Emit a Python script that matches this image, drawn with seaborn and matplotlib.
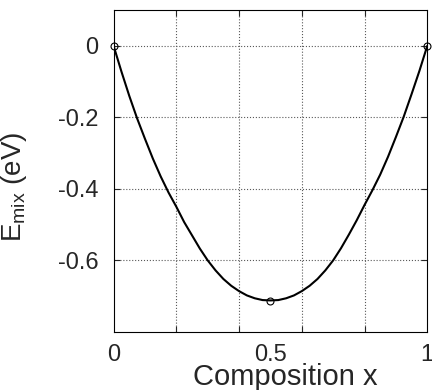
import numpy as np
import pandas as pd
import matplotlib
matplotlib.use('Agg')
from matplotlib import pyplot as plt
import seaborn as sns

# mixing energy curve
comp = [0.0, 0.025, 0.05, 0.075, 0.1, 0.125, 0.15, 0.175, 0.2, 0.225, 0.25,
        0.275, 0.3, 0.325, 0.35, 0.375, 0.4, 0.425, 0.45, 0.475, 0.5,
        0.525, 0.55, 0.575, 0.6, 0.625, 0.65, 0.675, 0.7, 0.725, 0.75,
        0.775, 0.8, 0.825, 0.85, 0.875, 0.9, 0.925, 0.95, 0.975, 1.0]
emix = [0.0, -0.072, -0.14, -0.203, -0.26, -0.315, -0.365, -0.41, -0.45, -0.493, -0.53,
        -0.567, -0.60, -0.628, -0.652, -0.671, -0.686, -0.698, -0.706, -0.711, -0.712,
        -0.711, -0.706, -0.698, -0.686, -0.671, -0.652, -0.628, -0.60, -0.566, -0.528,
        -0.488, -0.445, -0.404, -0.36, -0.31, -0.255, -0.198, -0.135, -0.07, 0.0]
# computed points (circles)
pts_x = [0.0, 0.5, 1.0]
pts_y = [0.0, -0.714, 0.0]

xtick_pos = [0, 0.5, 1]
xtick_lab = ['0', '0.5', '1']
xgrid_pos = [0.2, 0.4, 0.6, 0.8]
ytick_pos = [0, -0.2, -0.4, -0.6]
ytick_lab = ['0', '-0.2', '-0.4', '-0.6']

sns.set_style('white')
plt.rcParams['font.family'] = ['Liberation Sans', 'DejaVu Sans']
plt.rcParams['mathtext.fontset'] = 'custom'
plt.rcParams['mathtext.rm'] = 'Liberation Sans'
plt.rcParams['axes.unicode_minus'] = False

df = pd.DataFrame({'x': comp, 'E': emix})

fig = plt.figure(figsize=(4.32, 3.9), dpi=100)
ax = fig.add_axes([0.263, 0.149, 0.726, 0.825])

sns.lineplot(data=df, x='x', y='E', color='black', linewidth=1.5, ax=ax)
ax.plot(pts_x, pts_y, linestyle='none', marker='o', markersize=5,
        markerfacecolor='none', markeredgecolor='black', markeredgewidth=0.8,
        clip_on=False, zorder=5)

ax.set_xlim(0, 1)
ax.set_ylim(-0.8, 0.1)

ax.set_xticks(xtick_pos)
ax.set_xticklabels(xtick_lab)
ax.set_xticks(xgrid_pos, minor=True)
ax.set_yticks(ytick_pos)
ax.set_yticklabels(ytick_lab)

ax.tick_params(axis='x', which='major', length=0, pad=9, labelsize=17)
ax.tick_params(axis='x', which='minor', direction='in', length=4.5, width=0.8,
               top=True, bottom=True)
ax.tick_params(axis='y', which='major', direction='in', length=4.5, width=0.8,
               left=True, right=True, pad=11, labelsize=17)

ax.grid(False)
ax.xaxis.grid(True, which='minor', linestyle=':', color='0.35', linewidth=0.8)
ax.yaxis.grid(True, which='major', linestyle=':', color='0.35', linewidth=0.8)

for s in ax.spines.values():
    s.set_visible(True)
    s.set_color('black')
    s.set_linewidth(0.8)

ax.set_xlabel('Composition x', fontsize=21)
ax.set_ylabel(r'E$\mathregular{_{mix}}$ (eV)', fontsize=20)
ax.xaxis.set_label_coords(0.549, -0.097)
ax.xaxis.label.set_va('top')
ax.yaxis.set_label_coords(-0.269, 0.452)

plt.savefig('out.png', dpi=100)
